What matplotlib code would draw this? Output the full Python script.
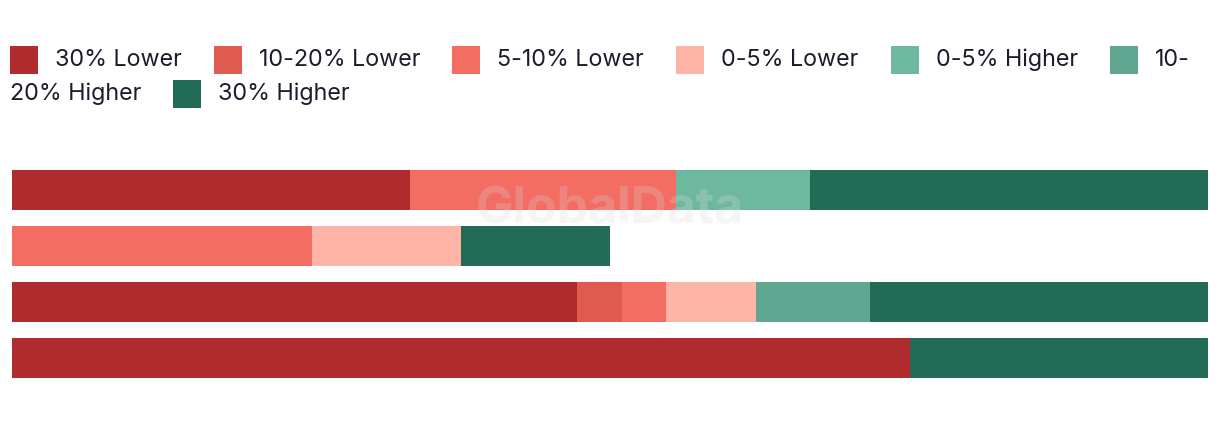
import matplotlib.pyplot as plt
from matplotlib.patches import Rectangle
import numpy as np

categories = ["30% Lower", "10-20% Lower", "5-10% Lower", "0-5% Lower",
              "0-5% Higher", "10-20% Higher", "30% Higher"]
colors = ["#af2b2e", "#e05a4f", "#f46d62", "#feb5a8",
          "#6fb8a0", "#60a690", "#216b57"]

rows = [0, 1, 2, 3]
lower30 = [33.3, 0, 47.2, 75.1]
lower10_20 = [0, 0, 3.8, 0]
lower5_10 = [22.2, 25.1, 3.7, 0]
lower0_5 = [0, 12.4, 7.5, 0]
higher0_5 = [11.2, 0, 0, 0]
higher10_20 = [0, 0, 9.5, 0]
higher30 = [33.3, 12.5, 28.3, 24.9]
series = [lower30, lower10_20, lower5_10, lower0_5, higher0_5, higher10_20, higher30]

W, H = 1220, 422
plt.rcParams['font.family'] = ['Inter', 'DejaVu Sans']
fig = plt.figure(figsize=(W / 100, H / 100), dpi=100)
ax = fig.add_axes([12 / W, 1 - 378 / H, 1196 / W, 208 / H])

left = np.zeros(len(rows))
for vals, col in zip(series, colors):
    ax.barh(rows, vals, left=left, height=0.714, color=col, linewidth=0)
    left += np.array(vals)

ax.set_xlim(0, 100)
ax.set_ylim(3.357, -0.357)
ax.axis('off')

# watermark
fig.text(610 / W, 1 - 210 / H, "GlobalData", ha='center', va='center',
         fontsize=36, fontweight='bold', color='#d8d8d8', alpha=0.25)

# legend drawn as a wrapping flow, like the web original
renderer = fig.canvas.get_renderer()
txt_col = '#1c1c2e'
fs = 16.8
line_y = [60, 94]
sw = 28


def add_text(x, line, s):
    t = fig.text(x / W, 1 - line_y[line] / H, s, ha='left', va='center',
                 fontsize=fs, color=txt_col)
    return t.get_window_extent(renderer).width


def add_swatch(x, line, col):
    fig.add_artist(Rectangle((x / W, 1 - (line_y[line] + sw / 2) / H), sw / W, sw / H,
                             transform=fig.transFigure, color=col, lw=0))


x, line = 10, 0
max_x = 1210
for cat, col in zip(categories, colors):
    t = fig.text(0, 0, cat, fontsize=fs)
    w = t.get_window_extent(renderer).width
    t.remove()
    if x + sw + 17 + w > max_x:
        head, tail = cat.split('-', 1)
        add_swatch(x, line, col)
        add_text(x + sw + 17, line, head + '-')
        line += 1
        x = 10
        w2 = add_text(x, line, tail)
        x += w2 + 32
    else:
        add_swatch(x, line, col)
        add_text(x + sw + 17, line, cat)
        x += sw + 17 + w + 32

fig.savefig("out.png", dpi=100)
